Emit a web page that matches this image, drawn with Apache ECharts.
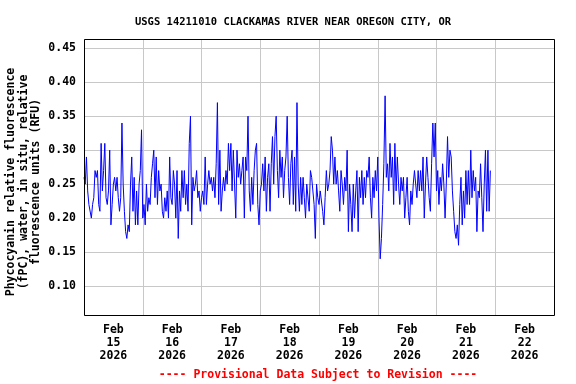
<!DOCTYPE html>
<html>
<head>
<meta charset="utf-8">
<script src="https://cdn.jsdelivr.net/npm/echarts@6/dist/echarts.min.js"></script>
<style>
html,body{margin:0;padding:0;background:#fff;}
#chart{width:576px;height:384px;}
</style>
</head>
<body>
<div id="chart"></div>
<script>
// Series: 30-minute readings starting Feb 15 2026 00:00
const titleText = "USGS 14211010 CLACKAMAS RIVER NEAR OREGON CITY, OR";
const yNameLines = ["Phycocyanin relative fluorescence", "(fPC), water, in situ, relative", "fluorescence units (RFU)"];
const footerText = "---- Provisional Data Subject to Revision ----";
const xLabels = ["Feb\n15\n2026","Feb\n16\n2026","Feb\n17\n2026","Feb\n18\n2026","Feb\n19\n2026","Feb\n20\n2026","Feb\n21\n2026","Feb\n22\n2026"];
const yTicks = [0.10,0.15,0.20,0.25,0.30,0.35,0.40,0.45];
const startTime = Date.UTC(2026,1,15,0,0);
const endTime = Date.UTC(2026,1,23,0,0);
const stepMinutes = 30;

const feb15 = [0.26,0.25,0.29,0.24,0.22,0.22,0.20,0.22,0.23,0.27,
0.26,0.27,0.22,0.21,0.31,0.24,0.27,0.31,0.23,0.22,
0.24,0.30,0.19,0.22,0.25,0.26,0.24,0.26,0.23,0.21,
0.23,0.34,0.25,0.21,0.18,0.17,0.19,0.18,0.25,0.29,
0.21,0.26,0.19,0.24,0.19,0.25,0.27,0.33];
const feb16 = [0.20,0.22,0.19,0.25,0.21,0.23,0.22,0.26,0.28,0.30,
0.23,0.29,0.22,0.27,0.24,0.25,0.21,0.20,
0.23,0.21,0.24,0.20,0.29,0.23,0.22,0.27,0.25,0.20,
0.27,0.17,0.24,0.21,0.27,0.23,0.27,0.22,0.25,0.21,
0.31,0.35,0.19,0.26,0.24,0.25,0.27,0.23,0.24,0.21];
const feb17 = [0.23,0.24,0.22,0.29,0.22,0.25,0.27,0.25,0.26,0.24,
0.26,0.23,0.28,0.37,0.22,0.30,0.21,0.24,0.26,0.24,
0.27,0.25,0.31,0.27,0.31,0.24,0.30,0.25,0.20,0.30,
0.26,0.28,0.25,0.27,0.29,0.20,0.29,0.27,0.35,0.24,
0.21,0.26,0.22,0.27,0.30,0.31,0.22,0.19];
const feb18 = [0.24,0.25,0.28,0.24,0.29,0.21,0.26,0.28,0.21,0.28,
0.32,0.25,0.32,0.35,0.27,0.23,0.30,0.26,0.29,0.23,
0.27,0.29,0.35,0.26,0.22,0.28,0.30,0.22,0.29,0.21,
0.37,0.25,0.21,0.26,0.22,0.26,0.23,0.20,0.25,0.25,
0.21,0.27,0.26,0.26,0.22,0.17,0.25,0.23];
const feb19 = [0.22,0.24,0.24,0.21,0.19,
0.23,0.27,0.24,0.25,0.27,0.32,0.30,0.25,0.29,0.25,
0.27,0.24,0.21,0.27,0.25,0.22,0.26,0.24,0.30,0.18,
0.25,0.22,0.18,0.25,0.20,0.24,0.27,0.18,0.26,0.23,
0.27,0.22,0.26,0.23,0.27,0.26,0.29,0.23,0.20,0.26,
0.23,0.27,0.24];
const feb20 = [0.29,0.20,0.14,0.17,0.22,0.28,0.38,0.26,0.28,0.24,
0.31,0.26,0.29,0.22,0.31,0.24,0.29,0.25,0.22,0.26,
0.24,0.26,0.20,0.23,0.26,0.21,0.19,0.24,0.22,0.25,
0.27,0.25,0.23,0.27,0.24,0.27,0.24,0.29,0.20,0.25,
0.29,0.26,0.23,0.21,0.28,0.34,0.29,0.34];
const feb21 = [0.24,0.27,0.22,0.26,0.24,0.28,0.25,0.20,0.25,0.32,
0.26,0.30,0.29,0.24,0.21,0.18,0.17,0.19,0.16,0.22,
0.26,0.19,0.24,0.20,0.27,0.22,0.27,0.22,0.30,0.23,
0.27,0.24,0.26,0.18,0.24,0.23,0.28,0.23,0.18,0.25,
0.30,0.21,0.30,0.21,0.27];

const values = [].concat(feb15, feb16, feb17, feb18, feb19, feb20, feb21);
const seriesData = values.map((v, i) => [startTime + i * stepMinutes * 60000, v]);

const FONT = "DejaVu Sans Mono";
const GRID = {left: 84, top: 39, width: 470, height: 276};
const chart = echarts.init(document.getElementById('chart'), null, {renderer: 'canvas'});
chart.setOption({
  animation: false,
  backgroundColor: '#fff',
  title: {
    text: titleText, left: 288, top: 12, textAlign: 'center',
    textStyle: {fontFamily: FONT, fontWeight: 'bold', fontSize: 10.5, color: '#000'}
  },
  grid: Object.assign({show: false, containLabel: false}, GRID),
  xAxis: [
    {type: 'value', min: startTime, max: endTime, interval: 86400000,
     axisLabel: {show: false}, axisTick: {show: false}, axisLine: {show: false},
     splitLine: {show: true, lineStyle: {color: '#c8c8c8', width: 1}}},
    {type: 'category', data: xLabels, position: 'bottom', boundaryGap: true,
     axisTick: {show: false}, axisLine: {show: false}, splitLine: {show: false},
     axisLabel: {margin: 9, fontFamily: FONT, fontWeight: 'bold', fontSize: 11.5, lineHeight: 13, color: '#000', align: 'center', interval: 0}}
  ],
  yAxis: {
    type: 'value', min: 0.0573, max: 0.4637, splitNumber: 8, minInterval: 0.05, maxInterval: 0.05,
    axisLine: {show: false}, axisTick: {show: false},
    splitLine: {show: true, lineStyle: {color: '#c8c8c8', width: 1}},
    axisLabel: {showMinLabel: false, showMaxLabel: false, margin: 8, fontFamily: FONT, fontWeight: 'bold', fontSize: 11.5, color: '#000',
      formatter: v => (yTicks.some(t => Math.abs(t - v) < 1e-6) ? v.toFixed(2) : '')}
  },
  series: [{
    type: 'line', xAxisIndex: 0, data: seriesData, showSymbol: false, symbol: 'none',
    lineStyle: {color: '#0000ff', width: 1}, itemStyle: {color: '#0000ff'}, sampling: null
  }],
  graphic: [
    {type: 'rect', z: 100, silent: true,
     shape: {x: GRID.left + 0.5, y: GRID.top + 0.5, width: GRID.width, height: GRID.height},
     style: {fill: null, stroke: '#000', lineWidth: 1}},
    {type: 'text', x: 24, y: 182, rotation: Math.PI / 2,
     style: {text: yNameLines.join('\n'), x: 0, y: 0, align: 'center', verticalAlign: 'middle', lineHeight: 12.5,
       font: 'bold 11.5px "DejaVu Sans Mono"', fill: '#000'}},
    {type: 'text', x: 318, y: 375,
     style: {text: footerText, align: 'center', verticalAlign: 'middle', font: 'bold 11.5px "DejaVu Sans Mono"', fill: '#ff0000'}}
  ]
});
</script>
</body>
</html>
